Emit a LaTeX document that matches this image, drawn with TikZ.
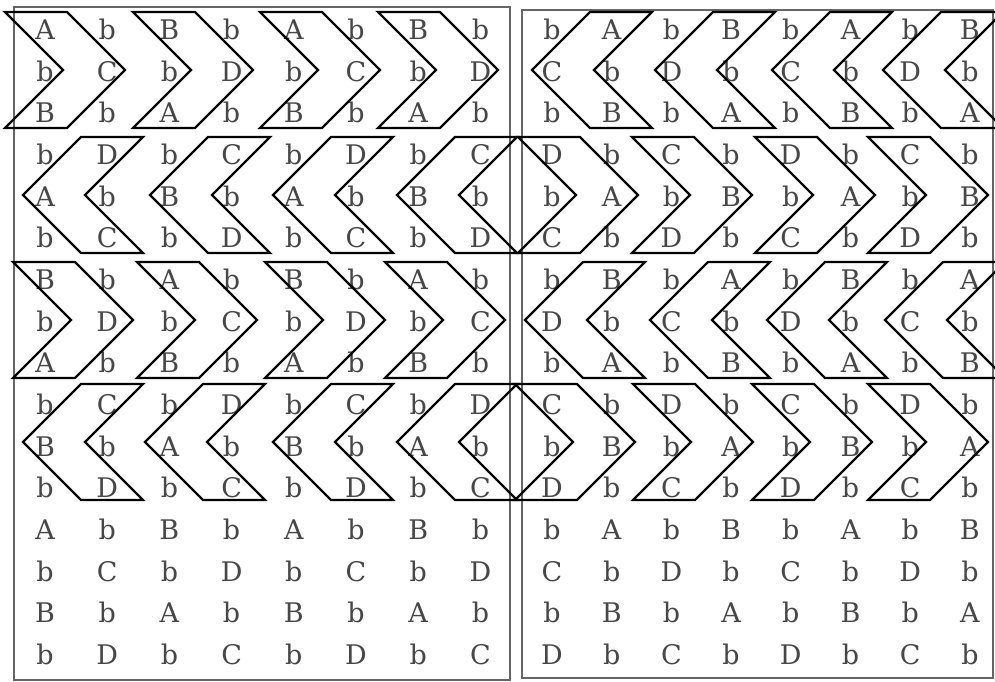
\documentclass[tikz,border=0pt]{standalone}
\usepackage{fontspec}
\newfontfamily\gridfont{DejaVu Serif}
\tikzset{
  lt/.style={anchor=base, text=black!72, font=\gridfont\fontsize{27}{30}\selectfont, inner sep=0pt},
  chev/.style={draw=black, line width=2.2pt, line join=miter},
  panel/.style={draw=black!60, line width=1.6pt},
}
% one row of letters: #1 row index, #2 left panel letters, #3 right panel letters
\newcommand\mkrow[3]{%
  \foreach \lett [count=\cc] in {#2}{\node[lt] (L-#1-\cc) at ({45+(\cc-1)*62.2},{39.5+(#1-1)*41.67}) {\lett};}%
  \foreach \lett [count=\cc] in {#3}{\node[lt] (R-#1-\cc) at ({552+(\cc-1)*59.7},{39.5+(#1-1)*41.67}) {\lett};}%
}
% right-pointing chevron: #1 top-left x, #2 middle y
\newcommand\chevR[2]{\draw[chev] ({#1},{#2-58}) -- ++(62,0) -- ++(58,58) -- ++(-58,58) -- ++(-62,0) -- ++(58,-58) -- cycle;}
% left-pointing chevron: #1 tip x, #2 middle y
\newcommand\chevL[2]{\draw[chev] ({#1},{#2}) -- ++(58,-58) -- ++(62,0) -- ++(-58,58) -- ++(58,58) -- ++(-62,0) -- cycle;}
\begin{document}
\begin{tikzpicture}[x=1pt, y=-1pt]
  \useasboundingbox (0,0) rectangle (995,682);
  \clip (0,0) rectangle (995,682);
  \fill[white] (0,0) rectangle (995,682);
  % panels
  \draw[panel] (14,7) rectangle (510,680);
  \draw[panel] (522,10) rectangle (993,678);
  % letters
  \mkrow{1}{A,b,B,b,A,b,B,b}{b,A,b,B,b,A,b,B}
  \mkrow{2}{b,C,b,D,b,C,b,D}{C,b,D,b,C,b,D,b}
  \mkrow{3}{B,b,A,b,B,b,A,b}{b,B,b,A,b,B,b,A}
  \mkrow{4}{b,D,b,C,b,D,b,C}{D,b,C,b,D,b,C,b}
  \mkrow{5}{A,b,B,b,A,b,B,b}{b,A,b,B,b,A,b,B}
  \mkrow{6}{b,C,b,D,b,C,b,D}{C,b,D,b,C,b,D,b}
  \mkrow{7}{B,b,A,b,B,b,A,b}{b,B,b,A,b,B,b,A}
  \mkrow{8}{b,D,b,C,b,D,b,C}{D,b,C,b,D,b,C,b}
  \mkrow{9}{A,b,B,b,A,b,B,b}{b,A,b,B,b,A,b,B}
  \mkrow{10}{b,C,b,D,b,C,b,D}{C,b,D,b,C,b,D,b}
  \mkrow{11}{B,b,A,b,B,b,A,b}{b,B,b,A,b,B,b,A}
  \mkrow{12}{b,D,b,C,b,D,b,C}{D,b,C,b,D,b,C,b}
  \mkrow{13}{A,b,B,b,A,b,B,b}{b,A,b,B,b,A,b,B}
  \mkrow{14}{b,C,b,D,b,C,b,D}{C,b,D,b,C,b,D,b}
  \mkrow{15}{B,b,A,b,B,b,A,b}{b,B,b,A,b,B,b,A}
  \mkrow{16}{b,D,b,C,b,D,b,C}{D,b,C,b,D,b,C,b}
  % chevrons, left panel
  \foreach \x in {5,133,260,378} {\chevR{\x}{70}}
  \foreach \x in {23,150,273,397} {\chevL{\x}{195}}
  \foreach \x in {13,137,265,385} {\chevR{\x}{320}}
  \foreach \x in {23,145,273,397} {\chevL{\x}{442}}
  % chevrons, right panel
  \foreach \x in {532,655,772,883} {\chevL{\x}{70}}
  \foreach \x in {518,632,755,868} {\chevR{\x}{195}}
  \foreach \x in {525,650,767,885} {\chevL{\x}{320}}
  \foreach \x in {515,633,752,868} {\chevR{\x}{442}}
\end{tikzpicture}
\end{document}
